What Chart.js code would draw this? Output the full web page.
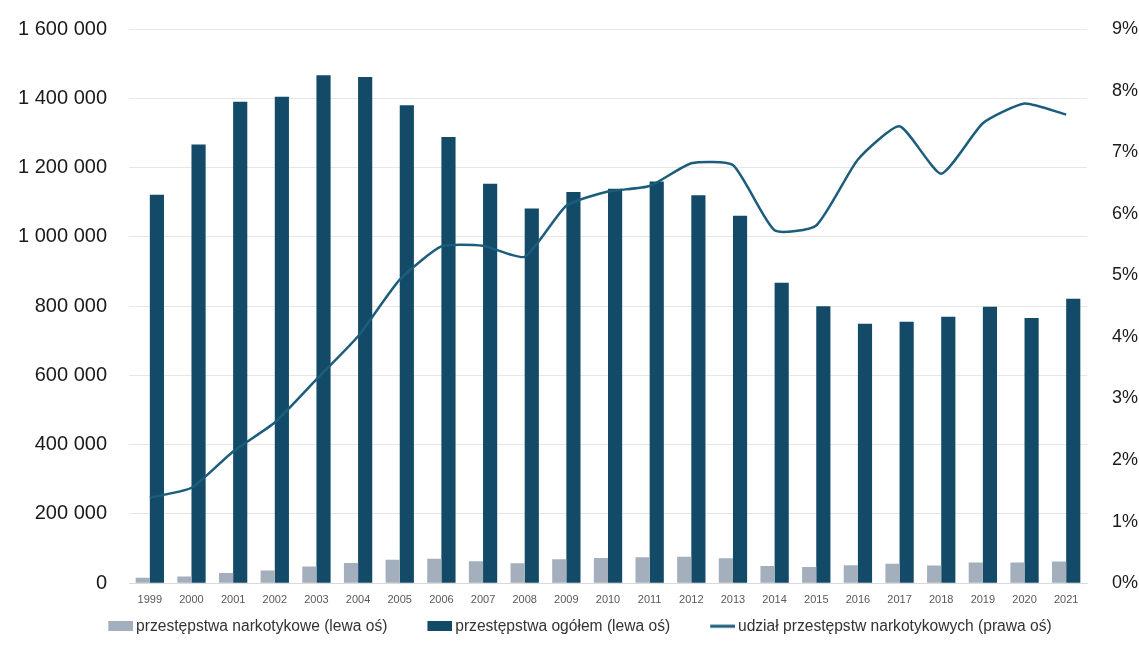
<!DOCTYPE html>
<html>
<head>
<meta charset="utf-8">
<script src="https://cdn.jsdelivr.net/npm/chart.js@4/dist/chart.umd.min.js"></script>
<style>
  html, body { margin: 0; padding: 0; background: #fff; }
  #wrap { width: 1139px; height: 649px; position: relative; }
</style>
</head>
<body>
<div id="wrap"><canvas id="chart" width="1139" height="649"></canvas></div>
<script>
// Data
const YEARS = ['1999','2000','2001','2002','2003','2004','2005','2006','2007','2008','2009','2010',
               '2011','2012','2013','2014','2015','2016','2017','2018','2019','2020','2021'];
const DRUG_CRIMES = [15600, 19600, 29800, 36600, 48500, 58600, 68000, 70400, 63100, 57400, 69200, 72400,
                     74800, 76400, 72000, 49700, 46500, 51500, 56000, 51200, 59600, 59600, 62500];
const ALL_CRIMES = [1121500, 1266900, 1390100, 1404200, 1466600, 1461200, 1380000, 1287900, 1153000, 1082100,
                    1129600, 1138500, 1159600, 1119800, 1061200, 867100, 799800, 749100, 754600, 769500,
                    797800, 765400, 820900];
const DRUG_SHARE = [0.0139, 0.0155, 0.0214, 0.0261, 0.0331, 0.0401, 0.0493, 0.0547, 0.0548, 0.0530, 0.0613, 0.0636,
                    0.0645, 0.0682, 0.0679, 0.0573, 0.0581, 0.0688, 0.0742, 0.0665, 0.0747, 0.0779, 0.0761];
const LEFT_TICKS = [0, 200000, 400000, 600000, 800000, 1000000, 1200000, 1400000, 1600000];

const FONT = "'Liberation Sans', Arial, sans-serif";
const GRAY = '#A3AFBC';
const NAVY = '#124A67';
const LINE = '#1C5D7C';

function spaced(n) {
  return String(n).replace(/\B(?=(\d{3})+(?!\d))/g, ' ');
}

// legend swatch: 25px mark on the right side of a wider transparent canvas,
// so the legend items get the wide gaps of the original
function swatch(color, h) {
  const c = document.createElement('canvas');
  c.width = 60; c.height = 10;
  const g = c.getContext('2d');
  g.fillStyle = color;
  g.fillRect(35, (10 - h) / 2, 25, h);
  return c;
}

const ctx = document.getElementById('chart');
new Chart(ctx, {
  type: 'bar',
  data: {
    labels: YEARS,
    datasets: [
      {
        label: 'przestępstwa narkotykowe (lewa oś)',
        data: DRUG_CRIMES,
        backgroundColor: GRAY,
        yAxisID: 'y',
        order: 1,
        legendMark: swatch(GRAY, 10)
      },
      {
        label: 'przestępstwa ogółem (lewa oś)',
        data: ALL_CRIMES,
        backgroundColor: NAVY,
        yAxisID: 'y',
        order: 1,
        legendMark: swatch(NAVY, 10)
      },
      {
        type: 'line',
        label: 'udział przestępstw narkotykowych (prawa oś)',
        data: DRUG_SHARE,
        borderColor: LINE,
        backgroundColor: LINE,
        borderWidth: 2.5,
        pointRadius: 0,
        tension: 0.18,
        yAxisID: 'y1',
        order: 0,
        legendMark: swatch(LINE, 3)
      }
    ]
  },
  options: {
    responsive: false,
    animation: false,
    devicePixelRatio: 1,
    layout: { padding: { top: 29, left: -9, right: 0, bottom: 5 } },
    datasets: {
      bar: { categoryPercentage: 0.68, barPercentage: 1.0 }
    },
    scales: {
      x: {
        grid: { display: false },
        border: { color: '#D9D9D9' },
        ticks: {
          color: '#595959',
          font: { family: FONT, size: 11 },
          maxRotation: 0,
          autoSkip: false,
          padding: 2
        }
      },
      y: {
        position: 'left',
        min: 0,
        max: 1600000,
        afterBuildTicks: s => { s.ticks = LEFT_TICKS.map(v => ({ value: v })); },
        afterFit: s => { s.width = 138; },
        grid: { color: '#E6E6E6', lineWidth: 1, drawTicks: true, tickLength: 22, tickColor: 'transparent' },
        border: { display: false },
        ticks: {
          color: '#1a1a1a',
          font: { family: FONT, size: 20 },
          padding: 0,
          callback: v => spaced(v)
        }
      },
      y1: {
        position: 'right',
        min: 0,
        max: 0.09,
        afterFit: s => { s.width = 52; },
        grid: { display: false, drawOnChartArea: false, drawTicks: true, tickLength: 25, tickColor: 'transparent' },
        border: { display: false },
        ticks: {
          stepSize: 0.01,
          color: '#1a1a1a',
          font: { family: FONT, size: 18 },
          padding: 0,
          callback: v => Math.round(v * 100) + '%'
        }
      }
    },
    plugins: {
      legend: {
        position: 'bottom',
        labels: {
          color: '#333',
          font: { family: FONT, size: 15.6 },
          usePointStyle: true,
          pointStyleWidth: 50,
          boxHeight: 10,
          padding: 10,
          sort: (a, b) => a.datasetIndex - b.datasetIndex,
          generateLabels: chart => {
            const items = Chart.defaults.plugins.legend.labels.generateLabels(chart);
            items.forEach(it => {
              it.pointStyle = chart.data.datasets[it.datasetIndex].legendMark;
            });
            return items;
          }
        }
      },
      tooltip: { enabled: false }
    }
  }
});
</script>
</body>
</html>
